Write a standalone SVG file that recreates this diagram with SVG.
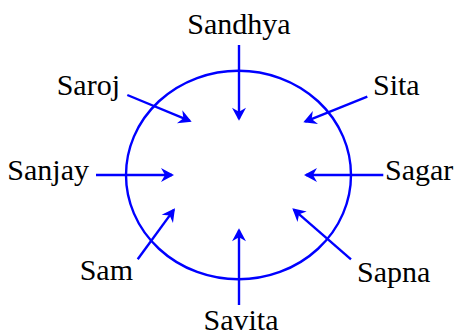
<svg xmlns="http://www.w3.org/2000/svg" width="456" height="336" viewBox="0 0 456 336">
<style>
.lbl{font-family:"Liberation Serif","Times New Roman",serif;font-size:30px;fill:#000}
.c{stroke:#0000ff;stroke-width:2.4;fill:none}
</style>
<defs>
<marker id="ah" markerUnits="userSpaceOnUse" markerWidth="20" markerHeight="20" viewBox="-15 -10 20 20" refX="0" refY="0" orient="auto">
<path d="M2,0 L-11,-7 L-7,0 L-11,7 Z" fill="#0000ff"/>
</marker>
</defs>
<rect width="456" height="336" fill="#fff"/>
<g id="circle"><ellipse cx="238.5" cy="175" rx="112.5" ry="104.3" class="c"/></g>
<g id="connectors" class="c">
<line x1="239" y1="45" x2="239" y2="118.7" marker-end="url(#ah)"/>
<line x1="96" y1="175" x2="172" y2="175" marker-end="url(#ah)"/>
<line x1="137.7" y1="259.3" x2="173.8" y2="209.9" marker-end="url(#ah)"/>
<line x1="383.3" y1="175" x2="306" y2="175" marker-end="url(#ah)"/>
<line x1="351" y1="259.3" x2="293.8" y2="209.6" marker-end="url(#ah)"/>
<line x1="239" y1="305" x2="239" y2="230.3" marker-end="url(#ah)"/>
<line x1="127.3" y1="95" x2="189.8" y2="120.9" marker-end="url(#ah)"/>
<line x1="367.3" y1="96.7" x2="305.2" y2="121.6" marker-end="url(#ah)"/>
</g>
<g id="Sandhya"><text class="lbl" x="239" y="34" text-anchor="middle">Sandhya</text></g>
<g id="Saroj"><text class="lbl" x="120" y="94.5" text-anchor="end">Saroj</text></g>
<g id="Sita"><text class="lbl" x="373" y="95">Sita</text></g>
<g id="Sanjay"><text class="lbl" x="89" y="180" text-anchor="end">Sanjay</text></g>
<g id="Sagar"><text class="lbl" x="385" y="180">Sagar</text></g>
<g id="Sam"><text class="lbl" x="133" y="280" text-anchor="end">Sam</text></g>
<g id="Sapna"><text class="lbl" x="357" y="281.5">Sapna</text></g>
<g id="Savita"><text class="lbl" x="241" y="329.5" text-anchor="middle">Savita</text></g>
</svg>
